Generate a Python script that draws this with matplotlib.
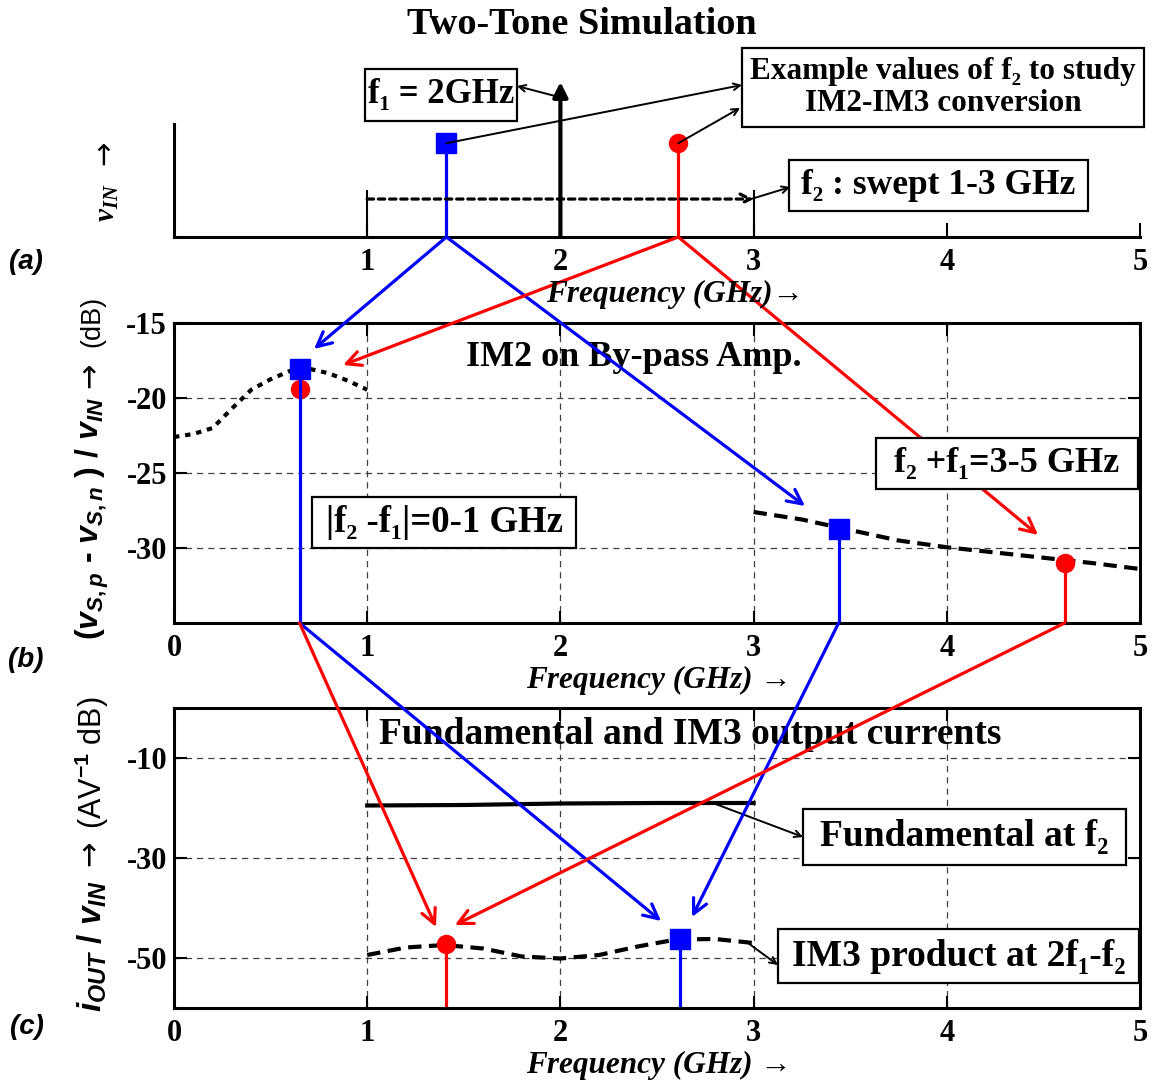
import matplotlib
matplotlib.use("Agg")
import matplotlib.pyplot as plt
from matplotlib.patches import Rectangle, ConnectionPatch

plt.rcParams['font.family'] = ['Liberation Serif', 'DejaVu Serif']
plt.rcParams['font.weight'] = 'bold'
plt.rcParams['axes.unicode_minus'] = False
plt.rcParams['mathtext.fontset'] = 'custom'
plt.rcParams['mathtext.it'] = 'Liberation Sans:italic:bold'
plt.rcParams['mathtext.rm'] = 'Liberation Sans'
plt.rcParams['mathtext.bf'] = 'Liberation Sans:bold'
plt.rcParams['mathtext.sf'] = 'Liberation Serif:italic'

# ---- data ----
f1 = 2.0
f2_examples = [1.41, 2.61]           # blue square, red dot
tone_level = 0.83
sweep_start, sweep_stop = 1.0, 3.0

# (b) IM2 on by-pass amp, dB
im2_low_f = [0.0, 0.1, 0.2, 0.3, 0.4, 0.5, 0.6, 0.7, 0.8, 0.9, 1.0]
im2_low_db = [-22.6, -22.4, -22.0, -20.7, -19.45, -18.75, -18.2, -18.05, -18.35, -18.85, -19.45]
im2_high_f = [3.0, 3.25, 3.5, 3.75, 4.0, 4.25, 4.5, 4.75, 5.0]
im2_high_db = [-27.6, -28.1, -28.8, -29.5, -29.95, -30.3, -30.65, -31.0, -31.4]
im2_diff_f = 0.65
im2_diff_db = [-18.07, -19.4]        # blue, red
im2_sum_f = [3.44, 4.61]
im2_sum_db = [-28.75, -31.0]

# (c) output currents, dB
fund_f = [1.0, 1.5, 2.0, 2.5, 3.0]
fund_db = [-19.5, -19.4, -19.1, -19.0, -19.0]
im3_f = [1.0, 1.2, 1.4, 1.6, 1.8, 2.0, 2.2, 2.4, 2.6, 2.8, 3.0]
im3_db = [-49.4, -47.9, -47.4, -48.1, -49.7, -50.1, -49.4, -47.7, -46.3, -46.2, -47.0]
im3_pts_f = [2.62, 1.41]             # blue, red
im3_pts_db = [-46.2, -47.2]

# arrow tips of the colour connectors (data coords of target panel)
blue_b_tips = [(0.725, -16.73), (3.266, -27.2)]
red_b_tips = [(0.875, -17.8), (4.472, -29.13)]
blue_c_tips = [(2.521, -42.6), (2.681, -41.8)]
red_c_tips = [(1.356, -43.8), (1.454, -43.4)]

BLUE = '#0000ff'
RED = '#ff0000'
W, H = 1162, 1082

fig = plt.figure(figsize=(W / 100, H / 100), dpi=100)


def px_rect(l, t, r, b):
    return [l / W, 1 - b / H, (r - l) / W, (b - t) / H]


def fx(x):
    return x / W


def fy(y):
    return 1 - y / H


ax_a = fig.add_axes(px_rect(174, 124, 1140, 237))
ax_b = fig.add_axes(px_rect(174, 323, 1140, 623))
ax_c = fig.add_axes(px_rect(174, 708, 1140, 1008))

for ax in (ax_a, ax_b, ax_c):
    ax.set_xlim(0, 5)
    ax.patch.set_alpha(0)
    for s in ax.spines.values():
        s.set_linewidth(2.2)

# ---- panel (a) ----
ax_a.set_ylim(0, 1)
ax_a.spines['top'].set_visible(False)
ax_a.spines['right'].set_visible(False)
ax_a.set_yticks([])
ax_a.set_xticks([1, 2, 3, 4, 5])
ax_a.tick_params(axis='x', direction='in', length=10, width=1.5, labelsize=22, pad=8)
ax_a.vlines([sweep_start, sweep_stop], 0, 0.42, color='k', lw=1.5)
ax_a.annotate('', xy=(sweep_stop, 0.336), xytext=(sweep_start, 0.336),
              arrowprops=dict(arrowstyle='->', lw=2.3, color='k', linestyle=(0, (2.0, 1.5)),
                              shrinkA=0, shrinkB=0, mutation_scale=18))
ax_a.annotate('', xy=(f1, 1.372), xytext=(f1, 0), annotation_clip=False,
              arrowprops=dict(arrowstyle='-|>', lw=3, color='k', shrinkA=0, shrinkB=0,
                              mutation_scale=22))
for f2, c, m, ms in zip(f2_examples, [BLUE, RED], ['s', 'o'], [14, 13]):
    ax_a.plot([f2, f2], [0, tone_level], color=c, lw=2.3)
    ax_a.plot(f2, tone_level, marker=m, color=c, ms=ms, clip_on=False)

thin = dict(arrowstyle='->', lw=1.4, color='k', shrinkA=0, shrinkB=0, mutation_scale=12)
ax_a.annotate('', xy=(1.775, 1.336), xytext=(1.972, 1.248), arrowprops=thin, annotation_clip=False)
ax_a.annotate('', xy=(2.94, 1.345), xytext=(f2_examples[0], tone_level), arrowprops=thin,
              annotation_clip=False)
ax_a.annotate('', xy=(2.93, 1.142), xytext=(f2_examples[1], tone_level), arrowprops=thin,
              annotation_clip=False)
ax_a.annotate('', xy=(3.19, 0.442), xytext=(2.987, 0.336), arrowprops=thin, annotation_clip=False)

# ---- panel (b) ----
ax_b.set_ylim(-35, -15)
ax_b.set_yticks([-15, -20, -25, -30])
ax_b.set_xticks([0, 1, 2, 3, 4, 5])
ax_b.plot(im2_low_f, im2_low_db, color='k', lw=3, linestyle=(0, (1.3, 1.4)))
ax_b.plot(im2_high_f, im2_high_db, color='k', lw=3, linestyle=(0, (3.2, 1.8)))
ax_b.plot(im2_diff_f, im2_diff_db[1], 'o', color=RED, ms=13)
ax_b.plot([im2_diff_f, im2_diff_f], [im2_diff_db[0], -35], color=BLUE, lw=2.3)
ax_b.plot(im2_diff_f, im2_diff_db[0], 's', color=BLUE, ms=14)
for f, d, c, m, ms in zip(im2_sum_f, im2_sum_db, [BLUE, RED], ['s', 'o'], [14, 13]):
    ax_b.plot([f, f], [d, -35], color=c, lw=2.3)
    ax_b.plot(f, d, marker=m, color=c, ms=ms)
ax_b.text(2.38, -17.27, 'IM2 on By-pass Amp.', ha='center', va='center', size=26)

# ---- panel (c) ----
ax_c.set_ylim(-60, 0)
ax_c.set_yticks([-10, -30, -50])
ax_c.set_xticks([0, 1, 2, 3, 4, 5])
ax_c.plot(fund_f, fund_db, color='k', lw=3)
ax_c.plot(im3_f, im3_db, color='k', lw=3, linestyle=(0, (3.2, 1.8)))
for f, d, c, m, ms in zip(im3_pts_f, im3_pts_db, [BLUE, RED], ['s', 'o'], [14, 13]):
    ax_c.plot([f, f], [d, -60], color=c, lw=2.3)
    ax_c.plot(f, d, marker=m, color=c, ms=ms)
ax_c.text(2.67, -5.4, 'Fundamental and IM3 output currents', ha='center', va='center', size=27)
ax_c.annotate('', xy=(3.256, -25.8), xytext=(2.81, -19.3), arrowprops=thin, annotation_clip=False)
ax_c.annotate('', xy=(3.126, -51.4), xytext=(2.971, -47.0), arrowprops=thin, annotation_clip=False)

for ax in (ax_b, ax_c):
    ax.grid(True, color='0.25', lw=0.9, linestyle=(0, (5, 4)))
    ax.tick_params(direction='in', length=9, width=1.5, top=True, right=True, labelsize=22)
    ax.tick_params(axis='x', pad=8)
    ax.tick_params(axis='y', pad=5)

# ---- cross-panel connectors ----
def connect(axA, xyA, axB, xyB, color):
    cp = ConnectionPatch(xyA=xyA, coordsA=axA.transData, xyB=xyB, coordsB=axB.transData,
                         arrowstyle='->', color=color, lw=2.3, mutation_scale=26,
                         shrinkA=0, shrinkB=0, zorder=2)
    fig.add_artist(cp)


for tip in blue_b_tips:
    connect(ax_a, (f2_examples[0], 0), ax_b, tip, BLUE)
for tip in red_b_tips:
    connect(ax_a, (f2_examples[1], 0), ax_b, tip, RED)
connect(ax_b, (im2_diff_f, -35), ax_c, blue_c_tips[0], BLUE)
connect(ax_b, (im2_sum_f[0], -35), ax_c, blue_c_tips[1], BLUE)
connect(ax_b, (im2_diff_f, -35), ax_c, red_c_tips[0], RED)
connect(ax_b, (im2_sum_f[1], -35), ax_c, red_c_tips[1], RED)


# ---- boxed labels ----
def box_text(l, t, r, b, s, size, **kw):
    fig.add_artist(Rectangle((fx(l), fy(b)), (r - l) / W, (b - t) / H, transform=fig.transFigure,
                             fc='white', ec='black', lw=1.6, zorder=4))
    fig.text(fx((l + r) / 2), fy((t + b) / 2), s, ha='center', va='center', size=size,
             zorder=5, **kw)


box_text(365, 69, 517, 121, 'f\u2081 = 2GHz', 25)
box_text(742, 48, 1144, 127, 'Example values of f\u2082 to study\nIM2-IM3 conversion', 22.5,
         linespacing=1.15)
box_text(789, 160, 1088, 211, 'f\u2082 : swept 1-3 GHz', 25.5)
box_text(312, 497, 576, 548, '|f\u2082 -f\u2081|=0-1 GHz', 26.5)
box_text(876, 438, 1138, 489, 'f\u2082 +f\u2081=3-5 GHz', 26)
box_text(803, 809, 1126, 865, 'Fundamental at f\u2082', 27)
box_text(778, 929, 1139, 983, 'IM3 product at 2f\u2081-f\u2082', 27)

# ---- titles, axis labels ----
fig.text(fx(582), fy(24), 'Two-Tone Simulation', ha='center', va='center', size=27.5)
xlab = dict(ha='center', va='center', size=22.5, style='italic')
fig.text(fx(675), fy(294), 'Frequency (GHz)\u2192', **xlab)
fig.text(fx(659), fy(680), 'Frequency (GHz) \u2192', **xlab)
fig.text(fx(659), fy(1065), 'Frequency (GHz) \u2192', **xlab)

plab = dict(ha='center', va='center', size=20, style='italic', family='Liberation Sans')
fig.text(fx(26), fy(262), '(a)', **plab)
fig.text(fx(26), fy(660), '(b)', **plab)
fig.text(fx(27), fy(1027), '(c)', **plab)

fig.text(fx(107), fy(222), '$\\mathsf{v_{IN}}$  \u2192', rotation=90, ha='center', va='bottom',
         size=21, weight='normal', family='DejaVu Sans')
fig.text(fx(92), fy(640), '($v_{S,p}$ - $v_{S,n}$ ) / $v_{IN}$', rotation=90, ha='center',
         va='bottom', size=23, family='Liberation Sans')
fig.text(fx(90), fy(388), '\u2192', rotation=90, ha='center', va='bottom', size=22,
         weight='normal', family='DejaVu Sans')
fig.text(fx(92), fy(296), '(dB)', rotation=90, ha='center', va='top', size=19.5,
         weight='normal', family='Liberation Sans')
fig.text(fx(92), fy(1012), '$i_{OUT}$ / $v_{IN}$', rotation=90, ha='center', va='bottom',
         size=24, family='Liberation Sans')
fig.text(fx(90), fy(866), '\u2192', rotation=90, ha='center', va='bottom', size=22,
         weight='normal', family='DejaVu Sans')
fig.text(fx(92), fy(697), '(AV$^{\\mathrm{-1}}$ dB)', rotation=90, ha='center', va='top',
         size=22, weight='normal', family='Liberation Sans')

fig.savefig('out.png', dpi=100)
